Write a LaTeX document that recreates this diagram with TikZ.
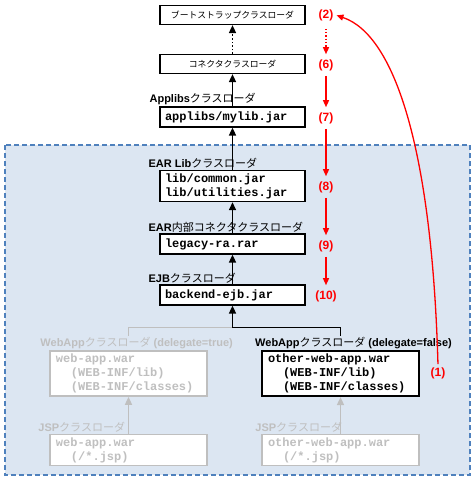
\documentclass[tikz,border=0pt]{standalone}
\usepackage{fontspec}
\setmainfont{Liberation Sans}
\setmonofont{Liberation Mono}
\newfontfamily\jpfont{Noto Sans CJK JP}
\usetikzlibrary{positioning, arrows.meta}
\definecolor{areafill}{HTML}{DCE6F2}
\definecolor{arealine}{HTML}{4F81BD}
\definecolor{dimgray}{HTML}{BFBFBF}
\newcommand{\clname}{{\jpfont\mdseries クラスローダ}}
\newcommand{\warindent}{\hspace*{15pt}}
\tikzset{
  box/.style={draw, line width=1.2pt, fill=white, text width=135pt, align=left,
    inner xsep=5pt, inner ysep=3pt, minimum height=20pt,
    font=\ttfamily\bfseries\fontsize{12}{14}\selectfont},
  jbox/.style={draw, line width=1.2pt, fill=white, minimum width=145pt, minimum height=19pt,
    inner sep=2pt, font=\jpfont\fontsize{8.8}{10}\selectfont},
  warbox/.style={box, text width=145pt, inner xsep=6pt},
  dimbox/.style={warbox, draw=dimgray, line width=1.5pt, text=dimgray},
  lbl/.style={inner sep=1pt, font=\bfseries\fontsize{11}{13}\selectfont},
  dimlbl/.style={lbl, text=dimgray},
  num/.style={text=red, inner sep=2pt, font=\bfseries\fontsize{12}{14}\selectfont},
  arr/.style={line width=1.6pt, -{Triangle[length=8pt,width=7pt]}},
  garr/.style={arr, dimgray},
  rarr/.style={red, line width=1.3pt, -{Triangle[length=7pt,width=6pt]}, shorten <=3pt, shorten >=3pt},
}

\begin{document}
\begin{tikzpicture}[x=1pt, y=-1pt]
  \useasboundingbox (0,0) rectangle (474,485);
  % EAR area
  \draw[fill=areafill, draw=arealine, line width=1.2pt, dash pattern=on 5pt off 3pt]
    (5,145) rectangle (470,475);

  % class loader boxes
  \node[jbox] (boot) at (232.5,15) {ブートストラップクラスローダ};
  \node[jbox] (conn) at (232.5,64) {コネクタクラスローダ};
  \node[box] (applib) at (232.5,117) {applibs/mylib.jar};
  \node[box] (earlib) at (232.5,186) {lib/common.jar\\lib/utilities.jar};
  \node[box] (earcon) at (232.5,244) {legacy-ra.rar};
  \node[box] (ejb) at (232.5,295) {backend-ejb.jar};
  \node[dimbox] (web1) at (128.5,373.5) {web-app.war\\\warindent(WEB-INF/lib)\\\warindent(WEB-INF/classes)};
  \node[warbox, line width=2pt] (web2) at (340.5,373.5) {other-web-app.war\\\warindent(WEB-INF/lib)\\\warindent(WEB-INF/classes)};
  \node[dimbox] (jsp1) at (128.5,450) {web-app.war\\\warindent(/*.jsp)};
  \node[dimbox] (jsp2) at (340.5,450) {other-web-app.war\\\warindent(/*.jsp)};

  % parent links
  \coordinate (split) at ([yshift=-22pt]ejb.south);
  \draw[dimgray, line width=1.5pt] (split) -| (web1.north);
  \draw[line width=1.5pt] (split) -| (web2.north);
  \draw[arr] (split) -- (ejb);
  \draw[arr] (ejb) -- (earcon);
  \draw[arr] (earcon) -- (earlib);
  \draw[arr] (earlib) -- (applib);
  \draw[arr] (applib) -- (conn);
  \draw[arr, dotted] (conn) -- (boot);
  \draw[garr] (jsp1) -- (web1);
  \draw[garr] (jsp2) -- (web2);

  % loader names
  \node[lbl, above right=0pt and -11pt of applib.north west] {Applibs\clname};
  \node[lbl, above right=0pt and -12pt of earlib.north west] {EAR Lib\clname};
  \node[lbl, above right=0pt and -12pt of earcon.north west] {EAR{\jpfont\mdseries 内部コネクタ}\clname};
  \node[lbl, above right=0pt and -12pt of ejb.north west] {EJB\clname};
  \node[dimlbl, fill=areafill, above right=0pt and -10pt of web1.north west] {WebApp\clname{} (delegate=true)};
  \node[lbl, fill=areafill, above right=0pt and -7pt of web2.north west] {WebApp\clname{} (delegate=false)};
  \node[dimlbl, above right=0pt and -12pt of jsp1.north west] {JSP\clname};
  \node[dimlbl, above right=0pt and -7pt of jsp2.north west] {JSP\clname};

  % lookup order
  \node[num] (n2) at (326,15) {(2)};
  \node[num] (n6) at (326,65) {(6)};
  \node[num] (n7) at (326,118) {(7)};
  \node[num] (n8) at (326,187) {(8)};
  \node[num] (n9) at (326,246) {(9)};
  \node[num] (n10) at (326,296) {(10)};
  \node[num] (n1) at (438,373) {(1)};
  \draw[rarr, dotted, shorten <=6pt] (n2) -- (n6);
  \draw[rarr] (n6) -- (n7);
  \draw[rarr] (n7) -- (n8);
  \draw[rarr] (n8) -- (n9);
  \draw[rarr] (n9) -- (n10);
  \draw[rarr, shorten <=1pt, shorten >=1pt] (n1.north) .. controls (432,150) and (395,35) .. (n2.east);
\end{tikzpicture}
\end{document}
